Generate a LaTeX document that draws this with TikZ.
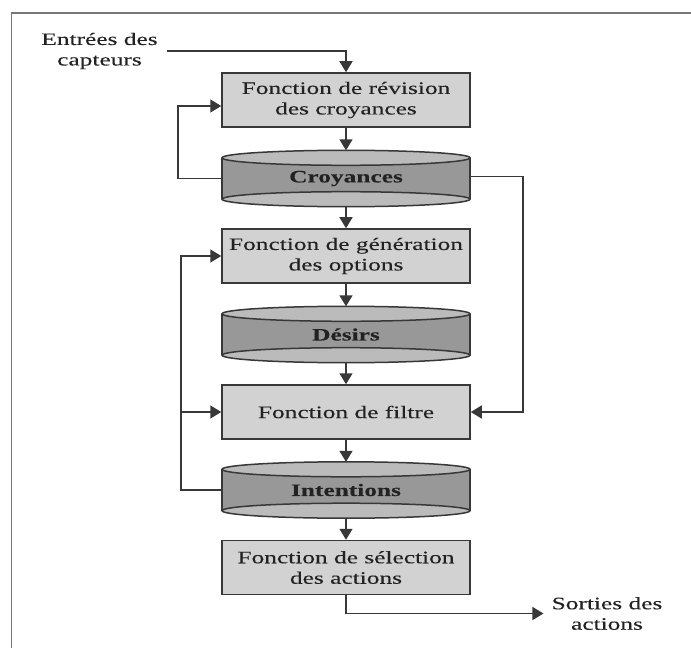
\documentclass[tikz,border=0pt]{standalone}
\usepackage{fontspec}
\setmainfont{Liberation Serif}[FakeStretch=1.45,FakeBold=0.15]
\usetikzlibrary{arrows.meta,calc,backgrounds}
\definecolor{boxfill}{HTML}{D2D2D2}
\definecolor{bodyfill}{HTML}{989898}
\definecolor{capfill}{HTML}{BBBBBB}
\definecolor{edgec}{HTML}{383838}
\definecolor{ink}{HTML}{222222}
\definecolor{framec}{HTML}{777777}
\newcommand\mycyl[1]{%
  \path[fill=bodyfill] ($(#1.north west)+(0,7.5)$) rectangle ($(#1.south east)+(0,-7.5)$);
  \path[fill=capfill, draw=edgec, line width=1.5bp] ($(#1.south)+(0,-7.5)$) ellipse [x radius=124bp, y radius=7.5bp];
  \path[fill=capfill, draw=edgec, line width=1.5bp] ($(#1.north)+(0,7.5)$) ellipse [x radius=124bp, y radius=7.5bp];
  \draw[edgec, line width=1.5bp] ($(#1.north west)+(0,7.5)$) -- ($(#1.south west)+(0,-7.5)$);
  \draw[edgec, line width=1.5bp] ($(#1.north east)+(0,7.5)$) -- ($(#1.south east)+(0,-7.5)$);
}
\begin{document}
\begin{tikzpicture}[x=1bp,y=-1bp,
  font=\fontsize{17.5bp}{20.5bp}\selectfont,
  fbox/.style={draw=edgec, line width=1.5bp, fill=boxfill, minimum width=248bp, minimum height=54bp, inner sep=0pt, align=center, text=ink},
  cyl/.style={minimum width=248bp, minimum height=56bp, inner sep=0pt, font=\fontsize{17.5bp}{20.5bp}\selectfont\bfseries, text=ink},
  lbl/.style={align=center, text=ink, inner sep=0pt},
  conn/.style={draw=edgec, line width=1.5bp},
  arr/.style={conn, -{Triangle[width=13bp,length=11bp]}},
]
\useasboundingbox (0,0) rectangle (691,648);
\draw[framec, line width=1.8bp] (11.5,648) -- (11.5,13) -- (691,13);

\node[lbl] (entree) at (99.5,51) {Entrées des\\capteurs};
\node[fbox] (box1) at (346,100) {Fonction de révision\\des croyances};
\node[cyl] (cyl1) at (346,178.5) {Croyances};
\node[fbox] (box2) at (346,256) {Fonction de génération\\des options};
\node[cyl] (cyl2) at (346,334.5) {Désirs};
\node[fbox] (box3) at (346,412) {Fonction de filtre};
\node[cyl] (cyl3) at (346,490) {Intentions};
\node[fbox] (box4) at (346,567.5) {Fonction de sélection\\des actions};
\node[lbl] (sortie) at (607,613.5) {Sorties des\\actions};

\begin{pgfonlayer}{background}
\mycyl{cyl1}
\mycyl{cyl2}
\mycyl{cyl3}
\end{pgfonlayer}

\draw[arr] ([xshift=9bp]entree.east) -| (box1.north);
\draw[arr] (box1.south) -- (cyl1.north);
\draw[arr] (cyl1.south) -- (box2.north);
\draw[arr] (box2.south) -- (cyl2.north);
\draw[arr] (cyl2.south) -- (box3.north);
\draw[arr] (box3.south) -- (cyl3.north);
\draw[arr] (cyl3.south) -- (box4.north);

\draw[arr] (cyl1.west) -- ++(-44,0) |- ([yshift=-6bp]box1.west);
\draw[arr] ([yshift=2bp]cyl1.east) -- ++(53,0) |- (box3.east);
\draw[arr] (cyl3.west) -- ++(-41,0) coordinate (lc) |- (box2.west);
\draw[arr] (lc |- box3.west) -- (box3.west);
\draw[arr] (box4.south) |- ([xshift=-8bp]sortie.west);
\end{tikzpicture}
\end{document}
